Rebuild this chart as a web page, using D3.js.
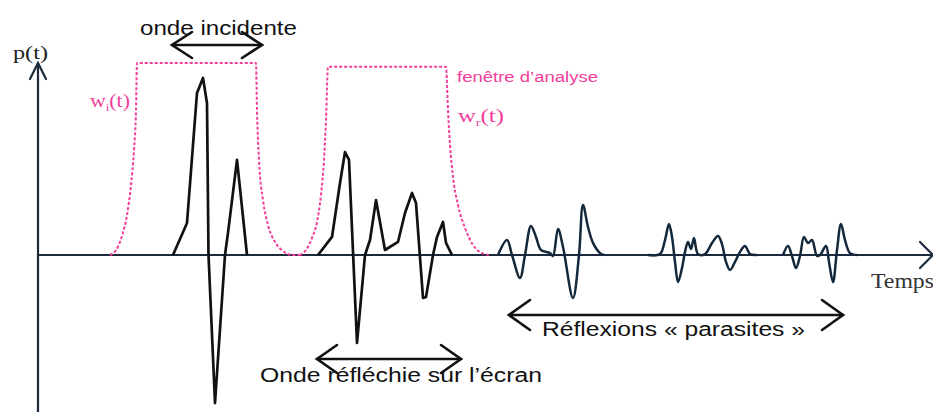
<!DOCTYPE html>
<html><head><meta charset="utf-8">
<script src="https://cdn.jsdelivr.net/npm/d3@7"></script>
<style>body{margin:0;background:#fff}svg{display:block}</style>
</head><body>
<svg id="c" width="933" height="412"></svg>
<script>
// ---- data: [time, amplitude] (arbitrary units) ----
const incidentWave = [[135,0],[149,0.167],[159,0.844],[165,0.922],[169,0.79],[170.5,0],[177,-0.771],[187,0],[190,0.115],[199,0.495],[209,0]];
const reflectedWave = [[280,0],[294,0.094],[302,0.375],[307,0.536],[311,0.495],[319,-0.458],[327,0],[332,0.078],[338,0.286],[347,0.026],[360,0.068],[367,0.219],[374,0.323],[378,0.271],[385,-0.224],[388,-0.219],[395,0],[399,0.094],[405,0.172],[408,0.063],[414,0]];
const parasitic1 = [[460,0],[469,0.078],[474,0],[482,-0.12],[487,0],[493,0.151],[498,0.094],[503,0.026],[512,0.01],[515,-0.005],[520,0.135],[525,0.042],[535,-0.224],[541,0],[545,0.26],[550,0.146],[555,0.063],[562,0.01],[566,0]];
const parasitic2 = [[610,0],[622,0.005],[627,0.078],[631,0.161],[634,0.094],[637,-0.036],[640,-0.141],[644,-0.068],[647,0.016],[650,0.068],[653,0.031],[656,0.089],[660,0.005],[667,0.005],[674,0.062],[680,0.099],[684,0.057],[688,-0.036],[692,-0.078],[697,-0.036],[702,0.016],[707,0.047],[712,0.005],[719,0]];
const parasitic3 = [[745,0],[750,0.047],[754,-0.005],[758,-0.068],[762,-0.005],[766,0.094],[770,0.062],[774,0.078],[779,-0.005],[782,0],[788,0.047],[791,-0.036],[795,-0.141],[799,0.026],[803,0.161],[807,0.078],[812,0.01],[819,0]];
const windowI = [[72,0],[78,0.026],[84,0.099],[89,0.208],[93,0.365],[96,0.547],[98,0.755],[99,1],[218,1],[219,0.755],[221,0.495],[225,0.286],[230,0.156],[237,0.068],[245,0.021],[254,0],[262,0]];
const windowR = [[262,0],[268,0.026],[274,0.089],[279,0.172],[283,0.313],[286,0.495],[288,0.703],[290,0.98],[408,0.98],[410,0.755],[412,0.573],[415,0.406],[420,0.26],[427,0.141],[435,0.052],[444,0.01],[452,0]];
const axisLabels = ["p(t)", "Temps"];
const annotationLabels = ["onde incidente", "Onde réfléchie sur l\u2019écran", "Réflexions « parasites »", "fenêtre d\u2019analyse"];

// ---- scales ----
const x = d3.scaleLinear().domain([0, 892]).range([38, 930]);
const y = d3.scaleLinear().domain([0, 1]).range([255, 63]);

const svg = d3.select("#c");
const PINK = "#f23d9b";
const SANS = "'Liberation Sans', Arial, sans-serif", SERIF = "'Liberation Serif', 'Times New Roman', serif";

// axes
const ax = svg.append("g").attr("stroke", "#1c2b3c").attr("stroke-width", 2.2).attr("fill", "none").attr("stroke-linecap", "round");
ax.append("line").attr("x1", x(0)).attr("x2", x(0)).attr("y1", y(-0.82)).attr("y2", y(1.0));
ax.append("polyline").attr("points", [[x(0)-8, y(1.0)+16],[x(0), y(1.0)],[x(0)+8, y(1.0)+16]].join(" "));
ax.append("line").attr("x1", x(0)).attr("x2", x(895)).attr("y1", y(0)).attr("y2", y(0));
ax.append("polyline").attr("points", [[x(882), y(0)-13],[x(895), y(0)],[x(882), y(0)+13]].join(" "));

// windows
const wline = d3.line().x(d => x(d[0])).y(d => y(d[1])).curve(d3.curveMonotoneX);
[windowI, windowR].forEach(w => svg.append("path").attr("d", wline(w))
  .attr("fill", "none").attr("stroke", PINK).attr("stroke-width", 2).attr("stroke-dasharray", "3,2"));

// signals
const lin = d3.line().x(d => x(d[0])).y(d => y(d[1])).curve(d3.curveLinear);
const smooth = d3.line().x(d => x(d[0])).y(d => y(d[1])).curve(d3.curveCatmullRom.alpha(0.5));
[incidentWave, reflectedWave].forEach(s => svg.append("path").attr("d", lin(s))
  .attr("fill", "none").attr("stroke", "#111").attr("stroke-width", 2.7).attr("stroke-linejoin", "round"));
[parasitic1, parasitic2, parasitic3].forEach(s => svg.append("path").attr("d", smooth(s))
  .attr("fill", "none").attr("stroke", "#13283a").attr("stroke-width", 2.5).attr("stroke-linejoin", "round"));

// double arrows (annotation)
function dbl(t1, t2, py, dx, dy) {
  const g = svg.append("g").attr("stroke", "#111").attr("stroke-width", 2.6).attr("fill", "none").attr("stroke-linecap", "round");
  const a = x(t1), b = x(t2);
  g.append("line").attr("x1", a).attr("x2", b).attr("y1", py).attr("y2", py);
  g.append("polyline").attr("points", [[a+dx, py-dy],[a, py],[a+dx, py+dy]].join(" "));
  g.append("polyline").attr("points", [[b-dx, py-dy],[b, py],[b-dx, py+dy]].join(" "));
}
dbl(134, 224, 45, 20, 13);
dbl(279, 423, 359, 20, 14);
dbl(471, 805, 315, 21, 15);

// texts
function txt(s, px, py, font, size, fill, len) {
  const t = svg.append("text").attr("x", px).attr("y", py).attr("font-family", font).attr("font-size", size).attr("fill", fill).text(s);
  if (len) t.attr("textLength", len).attr("lengthAdjust", "spacingAndGlyphs");
  return t;
}
txt(axisLabels[0], 13, 59, SERIF, 19, "#222", 35);
txt(axisLabels[1], 871, 288, SERIF, 20, "#333", 63);
txt(annotationLabels[0], 140, 35, SANS, 20, "#111", 157);
txt(annotationLabels[1], 260, 382, SANS, 20, "#111", 282);
txt(annotationLabels[2], 542, 336, SANS, 20, "#111", 263);
txt(annotationLabels[3], 457, 82, SANS, 14, PINK, 141);

function wlabel(sub, px, py, sx) {
  const t = svg.append("g").attr("transform", `translate(${px},${py}) scale(${sx},1)`)
    .append("text").attr("font-family", SERIF).attr("font-size", 19).attr("fill", PINK);
  t.append("tspan").text("w");
  t.append("tspan").attr("font-size", 11).attr("dy", 4).text(sub);
  t.append("tspan").attr("dy", -4).text("(t)");
}
wlabel("i", 90, 107, 1.15);
wlabel("r", 458, 122, 1.3);
</script>
</body></html>
